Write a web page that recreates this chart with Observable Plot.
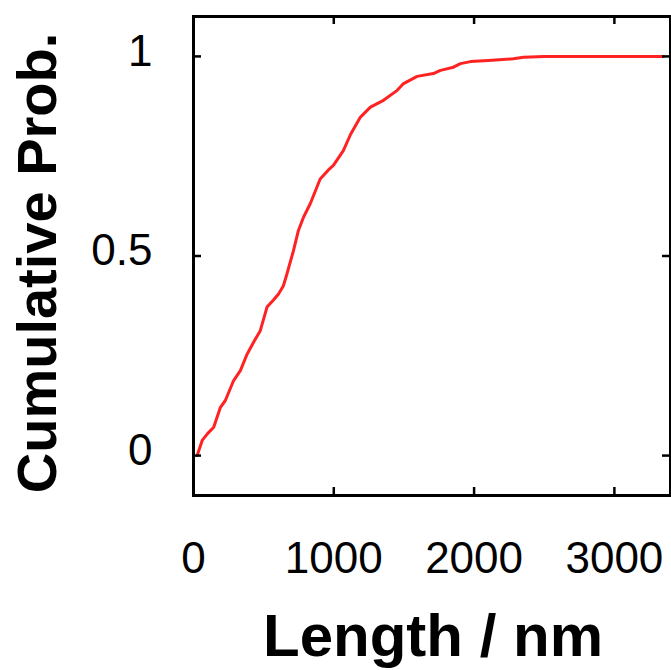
<!DOCTYPE html>
<html>
<head>
<meta charset="utf-8">
<script src="https://cdn.jsdelivr.net/npm/d3@7"></script>
<script src="https://cdn.jsdelivr.net/npm/@observablehq/plot@0.6"></script>
<style>
  html, body { margin: 0; padding: 0; background: #fff; }
  #chart svg { display: block; }
</style>
</head>
<body>
<div id="chart"></div>
<script>
const lengths = [26, 62, 100, 144, 192, 227, 286, 334, 382, 430, 476, 524, 570, 606, 640, 666, 713, 748, 784, 832, 903, 960, 997, 1068, 1120, 1190, 1261, 1354, 1452, 1497, 1594, 1710, 1760, 1853, 1903, 1974, 2100, 2280, 2352, 2500, 3349];
const probs   = [0, 0.038, 0.055, 0.071, 0.121, 0.138, 0.188, 0.213, 0.254, 0.285, 0.313, 0.372, 0.390, 0.405, 0.425, 0.455, 0.514, 0.564, 0.597, 0.631, 0.693, 0.715, 0.727, 0.764, 0.805, 0.848, 0.873, 0.890, 0.915, 0.932, 0.950, 0.957, 0.965, 0.973, 0.982, 0.987, 0.990, 0.994, 0.998, 1.0, 1.0];
const xTicks = [0, 1000, 2000, 3000];
const yTicks = [0, 0.5, 1];
const yTickLabels = ["0", "0.5", "1"];
const xLabel = "Length / nm";
const yLabel = "Cumulative Prob.";

const data = lengths.map((l, i) => ({length: l, prob: probs[i]}));
const font = "'Liberation Sans', Arial, Helvetica, sans-serif";

const W = 671, H = 670, mL = 193, mR = 1, mT = 16, mB = 175;
const frameW = W - mL - mR, frameH = H - mT - mB;
const tick = 8;

const chart = Plot.plot({
  width: W, height: H,
  marginLeft: mL, marginRight: mR, marginTop: mT, marginBottom: mB,
  style: {fontFamily: font, background: "#fff", color: "#000"},
  x: {domain: [0, 3400]},
  y: {domain: [-0.1, 1.1]},
  marks: [
    Plot.line(data, {x: "length", y: "prob", stroke: "#ff2222", strokeWidth: 3}),
    Plot.tickX(xTicks, {x: d => d, insetTop: frameH - tick, stroke: "#000", strokeWidth: 2.5}),
    Plot.tickX(xTicks, {x: d => d, insetBottom: frameH - tick, stroke: "#000", strokeWidth: 2.5}),
    Plot.tickY(yTicks, {y: d => d, insetRight: frameW - tick, stroke: "#000", strokeWidth: 2.5}),
    Plot.tickY(yTicks, {y: d => d, insetLeft: frameW - tick, stroke: "#000", strokeWidth: 2.5}),
    Plot.frame({stroke: "#000", strokeWidth: 3}),
    Plot.axisX({ticks: xTicks, tickSize: 0, tickPadding: 46, fontSize: 44, label: null, tickFormat: d => String(d)}),
    Plot.axisY({ticks: yTicks, tickSize: 0, tickPadding: 41, fontSize: 44, label: null, dy: -5, tickFormat: (d, i) => yTickLabels[i]}),
    Plot.text([xLabel], {text: d => d, frameAnchor: "bottom", dy: 160, dx: 1, fontSize: 60, fontWeight: "bold", fill: "#000"}),
    Plot.text([yLabel], {text: d => d, frameAnchor: "left", textAnchor: "middle", rotate: -90, dx: -155, dy: 7, fontSize: 56, fontWeight: "bold", fill: "#000"})
  ]
});
document.getElementById("chart").appendChild(chart);
</script>
</body>
</html>
